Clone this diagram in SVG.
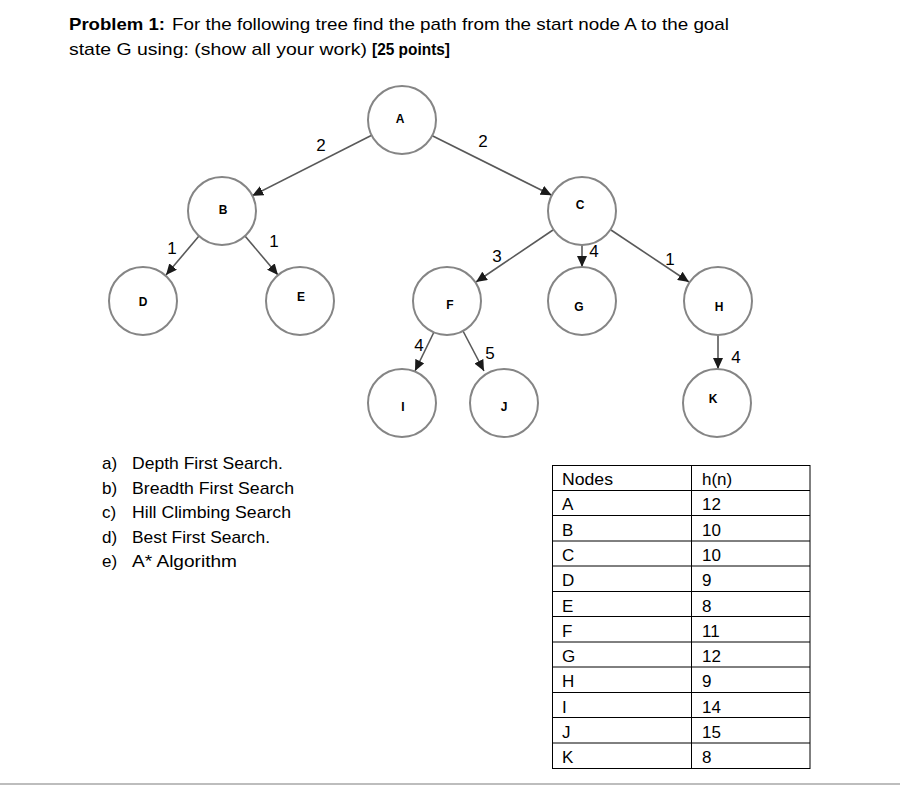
<svg xmlns="http://www.w3.org/2000/svg" width="900" height="785" viewBox="0 0 900 785">
<style>
.doc{font-family:"Liberation Sans",Arial,sans-serif;font-size:17px;fill:#000}
.b{font-weight:bold}
.node circle{fill:#fff;stroke:#858585;stroke-width:2}
.node text{font-family:"Liberation Sans",Arial,sans-serif;font-size:12px;font-weight:bold;fill:#000;text-anchor:middle}
.edge{stroke:#595959;stroke-width:1.6;fill:none}
.elab{font-family:"Liberation Sans",Arial,sans-serif;font-size:17px;fill:#000;text-anchor:middle}
.tbl{stroke:#000;stroke-width:1;fill:none}
</style>
<defs>
<marker id="arr" markerUnits="userSpaceOnUse" markerWidth="12" markerHeight="10" refX="11" refY="5" orient="auto">
<path d="M0,0 L11,5 L0,10 Z" fill="#1a1a1a"/>
</marker>
</defs>
<rect width="900" height="785" fill="#fff"/>

<g id="title">
<text class="doc b" x="69" y="30" textLength="96" lengthAdjust="spacingAndGlyphs">Problem 1:</text>
<text class="doc" x="172" y="30" textLength="557" lengthAdjust="spacingAndGlyphs">For the following tree find the path from the start node A to the goal</text>
<text class="doc" x="69" y="55" textLength="298" lengthAdjust="spacingAndGlyphs">state G using: (show all your work)</text>
<text class="doc b" x="372" y="55" textLength="78" lengthAdjust="spacingAndGlyphs">[25 points]</text>
</g>

<g id="connectors">
<line class="edge" x1="371.7" y1="135.3" x2="252.3" y2="195.7" marker-end="url(#arr)"/>
<line class="edge" x1="432.3" y1="135.7" x2="551.7" y2="195.3" marker-end="url(#arr)"/>
<line class="edge" x1="199" y1="236" x2="166" y2="275" marker-end="url(#arr)"/>
<line class="edge" x1="245" y1="236" x2="278" y2="275" marker-end="url(#arr)"/>
<line class="edge" x1="553" y1="230" x2="476" y2="282" marker-end="url(#arr)"/>
<line class="edge" x1="582" y1="245" x2="582" y2="267" marker-end="url(#arr)"/>
<line class="edge" x1="611" y1="230" x2="689" y2="282" marker-end="url(#arr)"/>
<line class="edge" x1="434" y1="332" x2="415" y2="371" marker-end="url(#arr)"/>
<line class="edge" x1="463" y1="331" x2="484" y2="371" marker-end="url(#arr)"/>
<line class="edge" x1="718" y1="335" x2="718" y2="369" marker-end="url(#arr)"/>
<text class="elab" x="321" y="151">2</text>
<text class="elab" x="483" y="147">2</text>
<text class="elab" x="172" y="254">1</text>
<text class="elab" x="274" y="247">1</text>
<text class="elab" x="497" y="262">3</text>
<text class="elab" x="594" y="257">4</text>
<text class="elab" x="670" y="265">1</text>
<text class="elab" x="419" y="351">4</text>
<text class="elab" x="490" y="359">5</text>
<text class="elab" x="736" y="363">4</text>
</g>

<g id="node-A" class="node"><circle cx="402" cy="120" r="34"/><text x="400" y="123">A</text></g>
<g id="node-B" class="node"><circle cx="222" cy="211" r="34"/><text x="223" y="214">B</text></g>
<g id="node-C" class="node"><circle cx="582" cy="211" r="34"/><text x="580" y="209">C</text></g>
<g id="node-D" class="node"><circle cx="143" cy="301" r="34"/><text x="143" y="306">D</text></g>
<g id="node-E" class="node"><circle cx="300" cy="301" r="34"/><text x="301" y="301">E</text></g>
<g id="node-F" class="node"><circle cx="447" cy="301" r="34"/><text x="450" y="309">F</text></g>
<g id="node-G" class="node"><circle cx="582" cy="301" r="34"/><text x="579" y="311">G</text></g>
<g id="node-H" class="node"><circle cx="718" cy="301" r="34"/><text x="719" y="311">H</text></g>
<g id="node-I" class="node"><circle cx="402" cy="403" r="34"/><text x="403" y="411">I</text></g>
<g id="node-J" class="node"><circle cx="504" cy="403" r="34"/><text x="504" y="411">J</text></g>
<g id="node-K" class="node"><circle cx="717" cy="403" r="34"/><text x="713" y="403">K</text></g>

<g id="list" class="doc">
<text x="102" y="469">a)</text><text x="132" y="469" textLength="151" lengthAdjust="spacingAndGlyphs">Depth First Search.</text>
<text x="102" y="493.5">b)</text><text x="132" y="493.5" textLength="162" lengthAdjust="spacingAndGlyphs">Breadth First Search</text>
<text x="102" y="518">c)</text><text x="132" y="518" textLength="159" lengthAdjust="spacingAndGlyphs">Hill Climbing Search</text>
<text x="102" y="542.5">d)</text><text x="132" y="542.5" textLength="138" lengthAdjust="spacingAndGlyphs">Best First Search.</text>
<text x="102" y="567">e)</text><text x="132" y="567" textLength="105" lengthAdjust="spacingAndGlyphs">A* Algorithm</text>
</g>

<g id="table">
<rect class="tbl" x="552.5" y="465.5" width="257.5" height="303"/>
<line class="tbl" x1="691.5" y1="465.5" x2="691.5" y2="768.5"/>
<path class="tbl" d="M552.5,490.5H810M552.5,515.5H810M552.5,541H810M552.5,566H810M552.5,591.5H810M552.5,616.5H810M552.5,642H810M552.5,667H810M552.5,692.5H810M552.5,717.5H810M552.5,743H810"/>
<g class="doc" font-size="16">
<text x="562" y="485" textLength="51" lengthAdjust="spacingAndGlyphs">Nodes</text><text x="702" y="485">h(n)</text>
<text x="562" y="510">A</text><text x="702" y="510">12</text>
<text x="562" y="535.5">B</text><text x="702" y="535.5">10</text>
<text x="562" y="561">C</text><text x="702" y="561">10</text>
<text x="562" y="586">D</text><text x="702" y="586">9</text>
<text x="562" y="611.5">E</text><text x="702" y="611.5">8</text>
<text x="562" y="636.5">F</text><text x="702" y="636.5">11</text>
<text x="562" y="662">G</text><text x="702" y="662">12</text>
<text x="562" y="687">H</text><text x="702" y="687">9</text>
<text x="562" y="712.5">I</text><text x="702" y="712.5">14</text>
<text x="562" y="737.5">J</text><text x="702" y="737.5">15</text>
<text x="562" y="763">K</text><text x="702" y="763">8</text>
</g>
</g>

<line x1="0" y1="784" x2="900" y2="784" stroke="#bdbdbd" stroke-width="2"/>
</svg>
